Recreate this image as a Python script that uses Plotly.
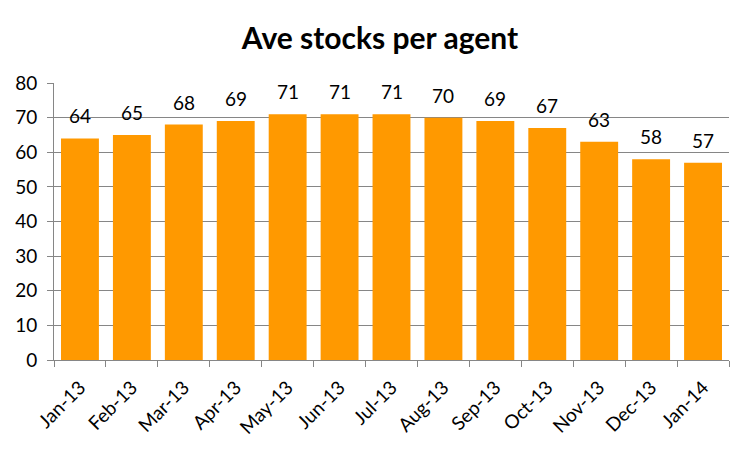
import plotly.graph_objects as go

months = ["Jan-13", "Feb-13", "Mar-13", "Apr-13", "May-13", "Jun-13", "Jul-13",
          "Aug-13", "Sep-13", "Oct-13", "Nov-13", "Dec-13", "Jan-14"]
stocks = [64, 65, 68, 69, 71, 71, 71, 70, 69, 67, 63, 58, 57]

BAR = "#FF9900"
GRID = "#868686"
FONT = "Lato, Open Sans, sans-serif"

fig = go.Figure(go.Bar(
    x=months, y=stocks,
    marker=dict(color=BAR, line=dict(width=0)),
    hoverinfo="x+y",
))

# value labels sit a bit above each bar, like the Excel original
for m, v in zip(months, stocks):
    fig.add_annotation(x=m, y=v, text=str(v), showarrow=False,
                       yanchor="bottom", yshift=9,
                       font=dict(size=19, color="#000000", family=FONT))

# page body has an 8px margin, so the figure is 8px smaller than the window
fig.update_layout(
    title=dict(text="<b>Ave stocks per agent</b>", x=0.5, xanchor="center",
               y=0.932, yanchor="middle",
               font=dict(size=30, color="#000000", family=FONT)),
    width=744, height=443,
    margin=dict(l=46, r=23, t=75, b=91),
    paper_bgcolor="white", plot_bgcolor="white",
    bargap=0.27,
    showlegend=False,
    font=dict(family=FONT, color="#000000"),
)
fig.update_xaxes(
    tickangle=-45, tickfont=dict(size=19), automargin=False,
    showline=True, linecolor=GRID, linewidth=1,
    ticks="outside", ticklen=6, tickcolor=GRID, tickson="boundaries",
    ticklabelstandoff=8,
    showgrid=False,
)
fig.update_yaxes(
    range=[0, 80], dtick=10, tickfont=dict(size=19), automargin=False,
    showline=True, linecolor=GRID, linewidth=1,
    ticks="outside", ticklen=6, tickcolor=GRID, ticklabelstandoff=6,
    showgrid=True, gridcolor=GRID, gridwidth=1, zeroline=False,
)

fig.write_html("out.html")
